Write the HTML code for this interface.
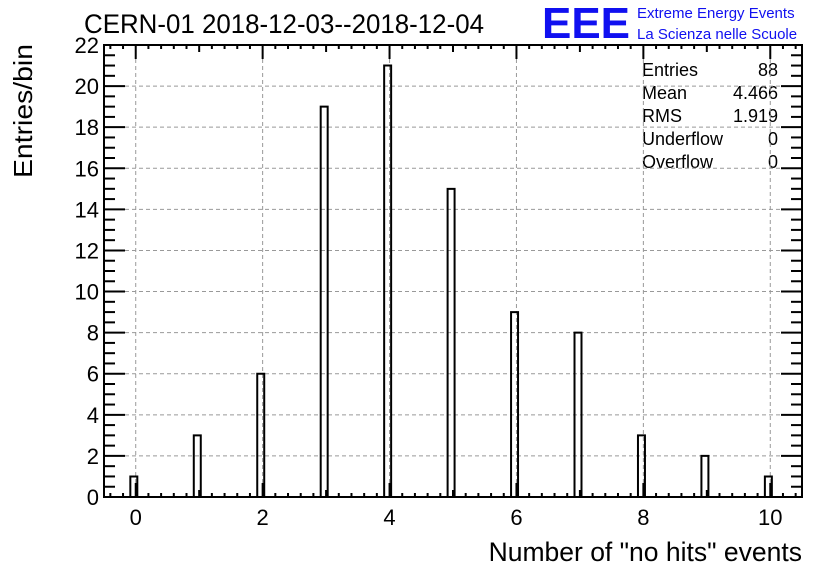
<!DOCTYPE html>
<html><head><meta charset="utf-8"><style>
body{margin:0;background:#fff;}
svg{display:block;font-family:"Liberation Sans",sans-serif;}
</style></head><body>
<svg id="c" width="836" height="572">
<text x="84" y="33" font-size="26.5" textLength="400" lengthAdjust="spacingAndGlyphs">CERN-01 2018-12-03--2018-12-04</text>
<text x="542" y="38" font-size="44" font-weight="bold" fill="#1010f0" textLength="88" lengthAdjust="spacingAndGlyphs">EEE</text>
<text x="637" y="18" font-size="15" fill="#1010f0">Extreme Energy Events</text>
<text x="637" y="39" font-size="15" fill="#1010f0">La Scienza nelle Scuole</text>
<text transform="translate(32,178) rotate(-90)" font-size="26" textLength="134" lengthAdjust="spacingAndGlyphs">Entries/bin</text>
<text x="802" y="561" font-size="26.5" text-anchor="end">Number of "no hits" events</text>
<g id="stats" font-size="18">
<text x="642" y="76">Entries</text><text x="778" y="76" text-anchor="end">88</text>
<text x="642" y="99">Mean</text><text x="778" y="99" text-anchor="end">4.466</text>
<text x="642" y="122">RMS</text><text x="778" y="122" text-anchor="end">1.919</text>
<text x="642" y="145">Underflow</text><text x="778" y="145" text-anchor="end">0</text>
<text x="642" y="168">Overflow</text><text x="778" y="168" text-anchor="end">0</text>
</g>
</svg>
<script>
const categories=[0,1,2,3,4,5,6,7,8,9,10];
const counts=[1,3,6,19,21,15,9,8,3,2,1];
const yTicks=[0,2,4,6,8,10,12,14,16,18,20,22];
const xTicks=[0,2,4,6,8,10];
const L=104,R=802,T=45,B=497,XMIN=-0.5,XMAX=10.5,YMAX=22;
const sx=v=>L+(v-XMIN)/(XMAX-XMIN)*(R-L);
const sy=v=>B-v/YMAX*(B-T);
const svg=document.getElementById('c');
const NS='http://www.w3.org/2000/svg';
function mk(t,a,p){const e=document.createElementNS(NS,t);for(const k in a)e.setAttribute(k,a[k]);(p||svg).appendChild(e);return e;}
const grid=mk('g',{stroke:'#999','stroke-dasharray':'4,3','stroke-width':1});


xTicks.forEach(v=>{mk('line',{x1:sx(v),x2:sx(v),y1:T,y2:B},grid);});
yTicks.forEach(v=>{mk('line',{x1:L,x2:R,y1:sy(v),y2:sy(v)},grid);});
const bars=mk('g',{fill:'none',stroke:'#000','stroke-width':2});


categories.forEach((c,i)=>{
  const x0=sx(c-0.085),x1=sx(c+0.025),y=sy(counts[i]);
  const p=mk('path',{d:`M${x0},${B}V${y}H${x1}V${B}`},bars);
  
  
});
const ax=mk('g',{stroke:'#000','stroke-width':2});


mk('rect',{x:L,y:T,width:R-L,height:B-T,fill:'none'},ax);
for(let v=0;v<=22;v+=0.5){const maj=v%2===0;const len=maj?21:11;const y=sy(v);
 mk('line',{x1:L,x2:L+len,y1:y,y2:y},ax);mk('line',{x1:R,x2:R-len,y1:y,y2:y},ax);}
for(let v=-0.4;v<=10.45;v+=0.2){const r=Math.round(v*5)/5;const maj=Math.abs(r%2)<1e-6;const mid=Math.abs(r-Math.round(r))<1e-6;const len=maj?14:(mid?7:4);const x=sx(r);
 mk('line',{x1:x,x2:x,y1:B,y2:B-len},ax);mk('line',{x1:x,x2:x,y1:T,y2:T+len},ax);}
const lab=mk('g',{'font-size':22});


yTicks.forEach(v=>{const t=mk('text',{x:L-5,y:sy(v)+8,'text-anchor':'end'},lab);t.textContent=v;
 
 });
xTicks.forEach(v=>{const t=mk('text',{x:sx(v),y:B+28,'text-anchor':'middle'},lab);t.textContent=v;
 
 });
</script>
</body></html>
